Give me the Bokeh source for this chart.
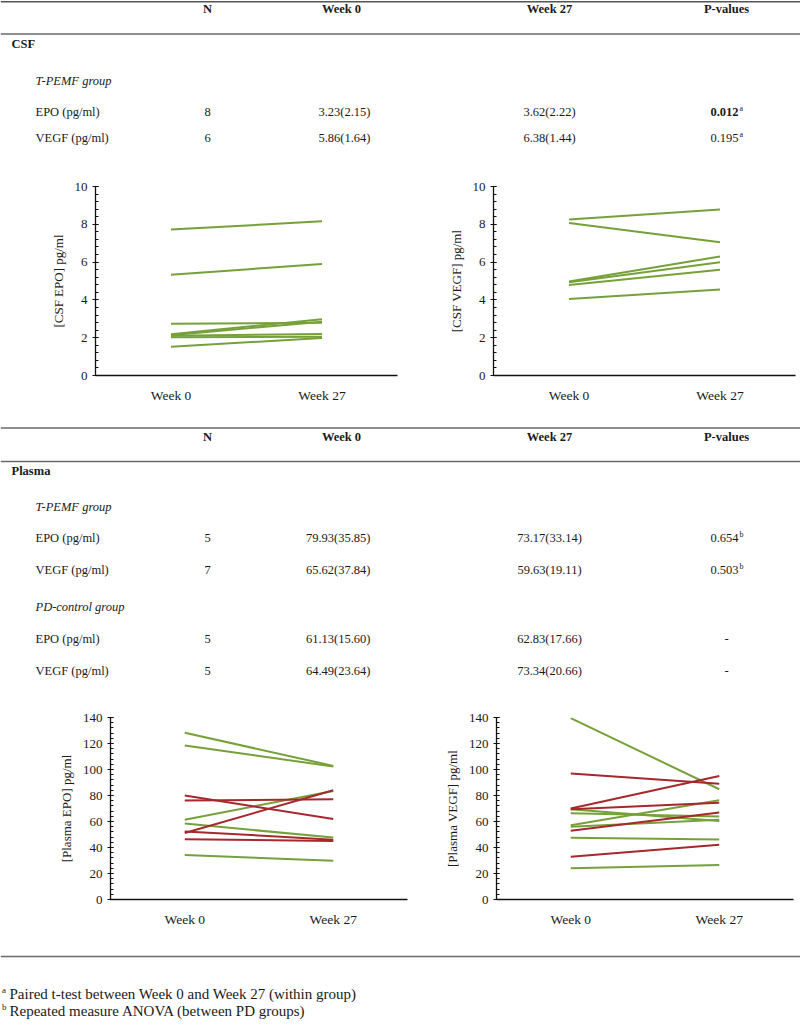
from bokeh.plotting import figure
from bokeh.layouts import column, row
from bokeh.models import Range1d, FactorRange, Span, SingleIntervalTicker, ColumnDataSource
from bokeh.core.properties import value
from bokeh.embed import file_html
from bokeh.resources import INLINE

# ---------------- data ----------------
weeks = ["Week 0", "Week 27"]
header = ["N", "Week 0", "Week 27", "P-values"]

csf_labels = ["EPO (pg/ml)", "VEGF (pg/ml)"]
csf_n = ["8", "6"]
csf_w0 = ["3.23(2.15)", "5.86(1.64)"]
csf_w27 = ["3.62(2.22)", "6.38(1.44)"]
csf_p = ["0.012", "0.195"]
csf_p_sup = ["a", "a"]
csf_p_bold = [True, False]

plasma_t_labels = ["EPO (pg/ml)", "VEGF (pg/ml)"]
plasma_t_n = ["5", "7"]
plasma_t_w0 = ["79.93(35.85)", "65.62(37.84)"]
plasma_t_w27 = ["73.17(33.14)", "59.63(19.11)"]
plasma_t_p = ["0.654", "0.503"]
plasma_t_p_sup = ["b", "b"]

plasma_c_labels = ["EPO (pg/ml)", "VEGF (pg/ml)"]
plasma_c_n = ["5", "5"]
plasma_c_w0 = ["61.13(15.60)", "64.49(23.64)"]
plasma_c_w27 = ["62.83(17.66)", "73.34(20.66)"]
plasma_c_p = ["-", "-"]

footnotes = ["Paired t-test between Week 0 and Week 27 (within group)",
             "Repeated measure ANOVA (between PD groups)"]
footnote_sups = ["a", "b"]

csf_epo_w0 = [7.72, 5.33, 2.74, 2.18, 2.13, 2.10, 2.03, 1.52]
csf_epo_w27 = [8.16, 5.90, 2.79, 2.98, 2.85, 2.20, 2.05, 1.99]
csf_vegf_w0 = [8.25, 8.07, 4.97, 4.94, 4.79, 4.05]
csf_vegf_w27 = [8.78, 7.05, 6.30, 5.99, 5.60, 4.55]

pl_epo_tpemf_w0 = [128.3, 118.5, 61.4, 58.4, 34.2]
pl_epo_tpemf_w27 = [102.8, 102.3, 83.5, 47.6, 29.8]
pl_epo_ctrl_w0 = [80.0, 76.1, 51.2, 52.4, 46.3]
pl_epo_ctrl_w27 = [62.0, 77.1, 84.0, 46.0, 45.0]

pl_vegf_tpemf_w0 = [139.5, 69.4, 66.4, 57.2, 55.9, 47.5, 24.0]
pl_vegf_tpemf_w27 = [84.8, 60.3, 63.8, 76.3, 61.3, 46.2, 26.5]
pl_vegf_ctrl_w0 = [97.0, 70.0, 69.4, 52.8, 32.9]
pl_vegf_ctrl_w27 = [89.1, 95.0, 74.5, 66.9, 42.1]

# ---------------- style ----------------
FONT = "Liberation Serif"
GREEN = "#76A03A"
RED = "#A5282D"
TXT = "#1a1a1a"
RULE = "#6a6a6a"
TW, TH = 800, 1031
SX = TW / 800.0
SY = TH / 1031.0


def px(v, s):
    return int(round(v * s))


def txt(p, x, y, s, align="left", size="12.5px", style="normal"):
    p.text(x=[x], y=[y], text=[s], text_align=align, text_baseline="middle",
           text_font=value(FONT), text_font_size=size, text_font_style=style,
           text_color=TXT)


def table_fig(y0, y1):
    h = px(y1, SY) - px(y0, SY)
    p = figure(width=TW, height=h, x_range=Range1d(0, 800), y_range=Range1d(y1, y0),
               output_backend="svg", toolbar_location=None, min_border=0,
               x_axis_location=None, y_axis_location=None)
    p.outline_line_color = None
    p.xgrid.visible = False
    p.ygrid.visible = False
    return p


def rule(p, y, w=1.5, c=RULE):
    p.add_layout(Span(location=y, dimension="width", line_color=c, line_width=w))


COLX = dict(label=35, n=207, w0_right=370, w27=549, p_right=738, hdr_w0=341, hdr_p=726)


def header_row(p, y):
    txt(p, COLX["n"], y, header[0], "center", style="bold")
    txt(p, COLX["hdr_w0"], y, header[1], "center", style="bold")
    txt(p, COLX["w27"], y, header[2], "center", style="bold")
    txt(p, COLX["hdr_p"], y, header[3], "center", style="bold")


def data_row(p, y, label, n, w0, w27, pv, sup=None, bold=False):
    txt(p, COLX["label"], y, label)
    txt(p, COLX["n"], y, n, "center")
    txt(p, COLX["w0_right"], y, w0, "right")
    txt(p, COLX["w27"], y, w27, "center")
    if sup is None:
        txt(p, COLX["hdr_p"], y, pv, "center")
    else:
        txt(p, COLX["p_right"], y, pv, "right", style="bold" if bold else "normal")
        txt(p, COLX["p_right"] + 1, y - 3.5, sup, "left", size="8px")


def chart_fig(X0, X1, Y0, Y1, fx0, fx1, fy0, fy1, ymax, interval, ylabel, series):
    w = px(X1, SX) - px(X0, SX)
    h = px(Y1, SY) - px(Y0, SY)
    left = px(fx0, SX) - px(X0, SX)
    fw = px(fx1, SX) - px(fx0, SX)
    right = w - left - fw
    top = px(fy0, SY) - px(Y0, SY)
    fh = px(fy1, SY) - px(fy0, SY)
    bottom = h - top - fh
    p = figure(width=w, height=h, x_range=FactorRange(factors=weeks),
               y_range=Range1d(0, ymax), output_backend="svg", toolbar_location=None,
               min_border_left=left, min_border_right=right,
               min_border_top=top, min_border_bottom=bottom)
    p.outline_line_color = None
    p.xgrid.visible = False
    p.ygrid.visible = False
    for w0, w27, col in series:
        n = len(w0)
        src = ColumnDataSource(dict(x0=[weeks[0]] * n, x1=[weeks[1]] * n, y0=w0, y1=w27))
        p.segment(x0="x0", y0="y0", x1="x1", y1="y1", source=src,
                  line_color=col, line_width=2)
    ya = p.yaxis[0]
    ya.ticker = SingleIntervalTicker(interval=interval, num_minor_ticks=5)
    ya.axis_label = ylabel
    ya.axis_label_text_font = FONT
    ya.axis_label_text_font_size = "13px"
    ya.axis_label_text_font_style = "normal"
    ya.axis_label_text_color = TXT
    ya.axis_label_standoff = 6
    ya.major_label_text_font = FONT
    ya.major_label_text_font_size = "13px"
    ya.major_label_text_color = TXT
    ya.major_label_standoff = 5
    ya.major_tick_in = 3
    ya.major_tick_out = 3
    ya.minor_tick_in = 3
    ya.minor_tick_out = 0
    ya.axis_line_width = 1.3
    ya.major_tick_line_width = 1.2
    ya.axis_line_color = "#111"
    ya.major_tick_line_color = "#111"
    ya.minor_tick_line_color = "#111"
    xa = p.xaxis[0]
    xa.major_tick_line_color = None
    xa.minor_tick_line_color = None
    xa.major_label_text_font = FONT
    xa.major_label_text_font_size = "13.5px"
    xa.major_label_text_color = TXT
    xa.major_label_standoff = 6
    xa.axis_line_width = 1.3
    xa.axis_line_color = "#111"
    return p


# ---------------- section 1: CSF table ----------------
t1 = table_fig(0, 165)
rule(t1, 1.2, 1.6, "#555")
header_row(t1, 8.8)
rule(t1, 33.5)
txt(t1, 11, 43.5, "CSF", style="bold")
txt(t1, 35, 80, "T-PEMF group", style="italic")
for i, y in enumerate([111, 137]):
    data_row(t1, y, csf_labels[i], csf_n[i], csf_w0[i], csf_w27[i], csf_p[i],
             csf_p_sup[i], csf_p_bold[i])

# ---------------- section 2: CSF charts ----------------
c1l = chart_fig(0, 400, 165, 422, 95, 397, 185.7, 375.2, 10, 2, "[CSF EPO] pg/ml",
                [(csf_epo_w0, csf_epo_w27, GREEN)])
c1r = chart_fig(400, 800, 165, 422, 492.7, 795, 185.7, 375.2, 10, 2, "[CSF VEGF] pg/ml",
                [(csf_vegf_w0, csf_vegf_w27, GREEN)])

# ---------------- section 3: plasma table ----------------
t2 = table_fig(422, 700)
rule(t2, 427.5)
header_row(t2, 436.7)
rule(t2, 461)
txt(t2, 11, 470, "Plasma", style="bold")
txt(t2, 35, 506, "T-PEMF group", style="italic")
for i, y in enumerate([537.3, 569]):
    data_row(t2, y, plasma_t_labels[i], plasma_t_n[i], plasma_t_w0[i], plasma_t_w27[i],
             plasma_t_p[i], plasma_t_p_sup[i])
txt(t2, 35, 606, "PD-control group", style="italic")
for i, y in enumerate([638.3, 670]):
    data_row(t2, y, plasma_c_labels[i], plasma_c_n[i], plasma_c_w0[i], plasma_c_w27[i],
             plasma_c_p[i])

# ---------------- section 4: plasma charts ----------------
c2l = chart_fig(0, 420, 700, 950, 110, 407, 717.2, 899, 140, 20, "[Plasma EPO] pg/ml",
                [(pl_epo_tpemf_w0, pl_epo_tpemf_w27, GREEN),
                 (pl_epo_ctrl_w0, pl_epo_ctrl_w27, RED)])
c2r = chart_fig(420, 800, 700, 950, 495.7, 793, 716.5, 899, 140, 20, "[Plasma VEGF] pg/ml",
                [(pl_vegf_tpemf_w0, pl_vegf_tpemf_w27, GREEN),
                 (pl_vegf_ctrl_w0, pl_vegf_ctrl_w27, RED)])

# ---------------- section 5: footnotes ----------------
f = table_fig(950, 1031)
rule(f, 956)
for i, y in enumerate([993, 1010]):
    txt(f, 1.5, y - 3.5, footnote_sups[i], size="9px")
    txt(f, 9, y, footnotes[i], size="15px")

page = column(t1, row(c1l, c1r), t2, row(c2l, c2r), f)

with open("out.html", "w") as fh:
    fh.write(file_html(page, INLINE))
